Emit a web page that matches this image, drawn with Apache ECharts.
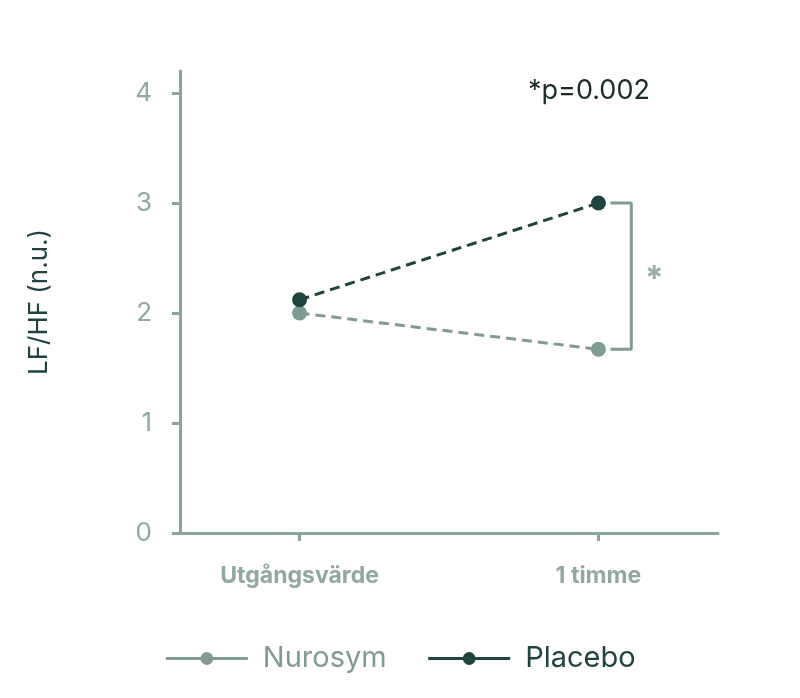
<!DOCTYPE html>
<html><head><meta charset="utf-8">
<script src="https://cdn.jsdelivr.net/npm/echarts@6/dist/echarts.min.js"></script>
<style>html,body{margin:0;background:#fff}#c{width:800px;height:698px}</style>
</head><body><div id="c"></div>
<script>
var myChart = echarts.init(document.getElementById('c'));
const categories = ['Utgångsvärde', '1 timme'];
const nurosym = [2.0, 1.67];
const placebo = [2.12, 3.0];
const yTicks = [0, 1, 2, 3, 4];
const light = '#7f9b94', dark = '#1f4440', axisCol = '#8aa39c';

function pts(vals) { return vals.map(function (v, i) { return [i, v]; }); }

option = {
  animation: false,
  textStyle: { fontFamily: 'Inter' },
  grid: { left: 180, right: 82, top: 71, bottom: 165 },
  xAxis: {
    type: 'value', min: -0.4, max: 1.4,
    axisLine: { show: true, onZero: false, lineStyle: { color: axisCol, width: 3 } },
    splitLine: { show: false },
    axisTick: { show: true, customValues: [0, 1], length: 8, lineStyle: { color: axisCol, width: 3 } },
    axisLabel: { customValues: [0, 1], formatter: function (v) { return categories[Math.round(v)]; },
      color: '#8fa8a1', fontSize: 23, fontWeight: 'bold', margin: 32 }
  },
  yAxis: {
    type: 'value', min: 0, max: 4.2,
    name: 'LF/HF (n.u.)', nameLocation: 'middle', nameGap: 128, nameRotate: 90,
    nameTextStyle: { color: dark, fontSize: 26 },
    axisLine: { show: true, onZero: false, lineStyle: { color: axisCol, width: 3 } },
    splitLine: { show: false },
    axisTick: { show: true, customValues: yTicks, length: 8, lineStyle: { color: axisCol, width: 3 } },
    axisLabel: { customValues: yTicks, color: '#8fa8a1', fontSize: 26, margin: 28 }
  },
  legend: {
    bottom: 20, left: 'center', itemWidth: 82, itemHeight: 16, itemGap: 40,
    textStyle: { fontSize: 29, color: dark, padding: [0, 0, 0, 10] },
    data: [
      { name: 'Nurosym', textStyle: { color: light }, lineStyle: { type: 'solid', width: 3 } },
      { name: 'Placebo', lineStyle: { type: 'solid', width: 3 } }
    ]
  },
  series: [
    { name: 'Nurosym', type: 'line', data: pts(nurosym), symbol: 'circle', symbolSize: 15,
      itemStyle: { color: light }, lineStyle: { color: light, width: 3, type: [10, 6] } },
    { name: 'Placebo', type: 'line', data: pts(placebo), symbol: 'circle', symbolSize: 15,
      itemStyle: { color: dark }, lineStyle: { color: dark, width: 3, type: [10, 6] } },
    { name: 'bracket', type: 'line', silent: true, symbol: 'none',
      data: [[1.04, placebo[1]], [1.11, placebo[1]], [1.11, nurosym[1]], [1.04, nurosym[1]]],
      lineStyle: { color: light, width: 3 }, z: 1 },
    { name: 'star', type: 'scatter', silent: true, symbolSize: 0, data: [[1.187, 2.3]],
      label: { show: true, position: 'inside', formatter: '*', fontSize: 34, fontWeight: 'bold', color: light } }
  ],
  graphic: [
    { type: 'text', left: 528, top: 77, style: { text: '*p=0.002', fontSize: 27, fill: '#1a2b2a', fontFamily: 'Inter' } }
  ]
};
myChart.setOption(option);
</script></body></html>
